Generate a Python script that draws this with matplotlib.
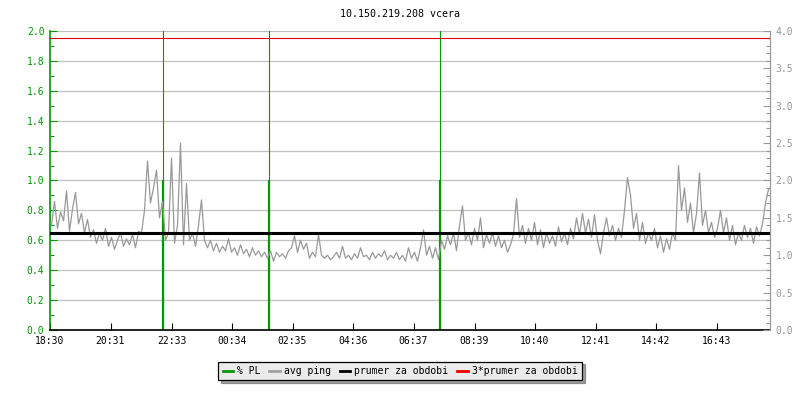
import numpy as np
import matplotlib
matplotlib.use("Agg")
import matplotlib.pyplot as plt
from matplotlib.lines import Line2D
from matplotlib.ticker import MultipleLocator

# avg ping [ms], one sample every 6 minutes starting 18:30
ping = [1.40, 1.72, 1.36, 1.58, 1.46, 1.86, 1.32, 1.62, 1.84, 1.42,
        1.56, 1.30, 1.48, 1.24, 1.34, 1.16, 1.30, 1.20, 1.36, 1.12,
        1.24, 1.08, 1.20, 1.30, 1.12, 1.22, 1.14, 1.28, 1.10, 1.32,
        1.30, 1.60, 2.26, 1.70, 1.90, 2.14, 1.50, 1.72, 1.20, 1.30,
        2.30, 1.16, 1.40, 2.50, 1.14, 1.96, 1.20, 1.30, 1.12, 1.40,
        1.74, 1.20, 1.10, 1.20, 1.06, 1.16, 1.04, 1.12, 1.06, 1.22,
        1.04, 1.10, 1.00, 1.14, 1.02, 1.08, 0.98, 1.10, 1.00, 1.06,
        0.98, 1.04, 0.96, 1.06, 0.92, 1.04, 0.98, 1.02, 0.96, 1.06,
        1.10, 1.26, 1.04, 1.20, 1.08, 1.16, 0.96, 1.04, 0.98, 1.28,
        1.00, 0.96, 1.00, 0.94, 0.98, 1.04, 0.96, 1.12, 0.96, 1.00,
        0.94, 1.02, 0.96, 1.10, 0.98, 1.00, 0.94, 1.04, 0.96, 1.02,
        0.98, 1.06, 0.94, 1.00, 0.96, 1.04, 0.94, 1.00, 0.92, 1.10,
        0.96, 1.04, 0.92, 1.10, 1.34, 1.00, 1.12, 0.96, 1.10, 0.94,
        1.20, 1.08, 1.26, 1.14, 1.30, 1.06, 1.40, 1.66, 1.20, 1.30,
        1.14, 1.36, 1.20, 1.50, 1.10, 1.28, 1.16, 1.30, 1.12, 1.26,
        1.10, 1.20, 1.04, 1.14, 1.28, 1.76, 1.24, 1.40, 1.16, 1.36,
        1.20, 1.44, 1.14, 1.34, 1.10, 1.30, 1.16, 1.26, 1.12, 1.38,
        1.18, 1.30, 1.14, 1.36, 1.22, 1.50, 1.28, 1.56, 1.30, 1.48,
        1.24, 1.54, 1.20, 1.02, 1.30, 1.50, 1.26, 1.40, 1.20, 1.36,
        1.24, 1.60, 2.04, 1.80, 1.36, 1.56, 1.20, 1.44, 1.16, 1.30,
        1.20, 1.36, 1.10, 1.26, 1.04, 1.22, 1.08, 1.30, 1.20, 2.20,
        1.60, 1.90, 1.44, 1.70, 1.30, 1.56, 2.10, 1.40, 1.60, 1.30,
        1.44, 1.24, 1.36, 1.60, 1.30, 1.50, 1.20, 1.40, 1.14, 1.30,
        1.20, 1.40, 1.24, 1.36, 1.16, 1.38, 1.26, 1.42, 1.70, 1.88]
sample_step = 6  # minutes

# packet loss events: minutes after 18:30
pl_times = [225, 437, 779]
pl_values = [1.0, 1.0, 1.0]
pl_spike_times = [226, 438, 780]
pl_spike_values = [100.0, 100.0, 100.0]

mean_ping = 1.30

tick_labels = ["18:30", "20:31", "22:33", "00:34", "02:35", "04:36",
               "06:37", "08:39", "10:40", "12:41", "14:42", "16:43"]
span_minutes = 1440


def minutes_since_start(label, start="18:30"):
    h, m = map(int, label.split(":"))
    sh, sm = map(int, start.split(":"))
    return ((h * 60 + m) - (sh * 60 + sm)) % 1440


GREEN = "#009900"
GREY = "#999999"
GRID = "#c0c0c0"
FS = 7

plt.rcParams["font.family"] = "DejaVu Sans Mono"

fig = plt.figure(figsize=(8, 4), dpi=100)
ax = fig.add_axes([0.0625, 0.175, 0.9, 0.7475])
ax2 = ax.twinx()

# % PL on the left axis, grid follows the left ticks
ax.grid(axis="y", color=GRID, lw=0.9)
ax.set_axisbelow(True)
ax.vlines(pl_times, 0, pl_values, color=GREEN, lw=1.6)
ax.vlines(pl_spike_times, 0, pl_spike_values, color=GREEN, lw=0.8)

# ping on the right axis
times = np.arange(len(ping)) * sample_step + sample_step / 2
ax2.plot(times, ping, color=GREY, lw=0.9)
ax2.axhline(mean_ping, color="black", lw=2.2, zorder=4)
ax2.axhline(3 * mean_ping, color="#dd0000", lw=0.8, zorder=4)

ax.set_xlim(0, span_minutes)
ax.set_ylim(0, 2.0)
ax2.set_ylim(0, 4.0)

ax.set_xticks([minutes_since_start(t) for t in tick_labels])
ax.set_xticklabels(tick_labels)

ax.yaxis.set_major_locator(MultipleLocator(0.2))
ax.yaxis.set_minor_locator(MultipleLocator(0.1))
ax2.yaxis.set_major_locator(MultipleLocator(0.5))
ax2.yaxis.set_minor_locator(MultipleLocator(0.1))
ax.yaxis.set_major_formatter(plt.FormatStrFormatter("%.1f"))
ax2.yaxis.set_major_formatter(plt.FormatStrFormatter("%.1f"))

ax.tick_params(axis="y", which="both", direction="in", colors=GREEN,
               labelsize=FS, pad=4, width=0.8)
ax.tick_params(axis="y", which="major", length=5)
ax.tick_params(axis="y", which="minor", length=3)
ax2.tick_params(axis="y", which="both", direction="in", colors=GREY,
                labelsize=FS, pad=4, width=0.8)
ax2.tick_params(axis="y", which="major", length=5)
ax2.tick_params(axis="y", which="minor", length=3)
ax.tick_params(axis="x", direction="in", length=5, width=0.8,
               labelsize=FS, pad=4, colors="black")

for a in (ax, ax2):
    a.spines["top"].set_visible(False)
ax2.spines["left"].set_visible(False)
ax2.spines["bottom"].set_visible(False)
ax.spines["right"].set_visible(False)
ax.spines["left"].set_color(GREEN)
ax.spines["left"].set_linewidth(1.2)
ax2.spines["right"].set_color(GREY)
ax2.spines["right"].set_linewidth(0.9)
ax.spines["bottom"].set_color("black")
ax.spines["bottom"].set_linewidth(1.2)

fig.text(0.5, 0.966, "10.150.219.208 vcera", ha="center", va="center",
         fontsize=7.2, color="black")

handles = [Line2D([], [], color=GREEN, lw=2),
           Line2D([], [], color="#a0a0a0", lw=2),
           Line2D([], [], color="black", lw=2),
           Line2D([], [], color="#ee0000", lw=2)]
names = ["% PL", "avg ping", "prumer za obdobi", "3*prumer za obdobi"]
leg = fig.legend(handles, names, loc="center", bbox_to_anchor=(0.5, 0.0725),
                 ncol=4, fontsize=FS, frameon=True, fancybox=False, shadow=True,
                 handlelength=1.1, handletextpad=0.4, columnspacing=0.9,
                 borderpad=0.45, borderaxespad=0)
leg.get_frame().set_facecolor("#ebebeb")
leg.get_frame().set_edgecolor("black")
leg.get_frame().set_linewidth(0.9)

fig.savefig("out.png", dpi=100)
